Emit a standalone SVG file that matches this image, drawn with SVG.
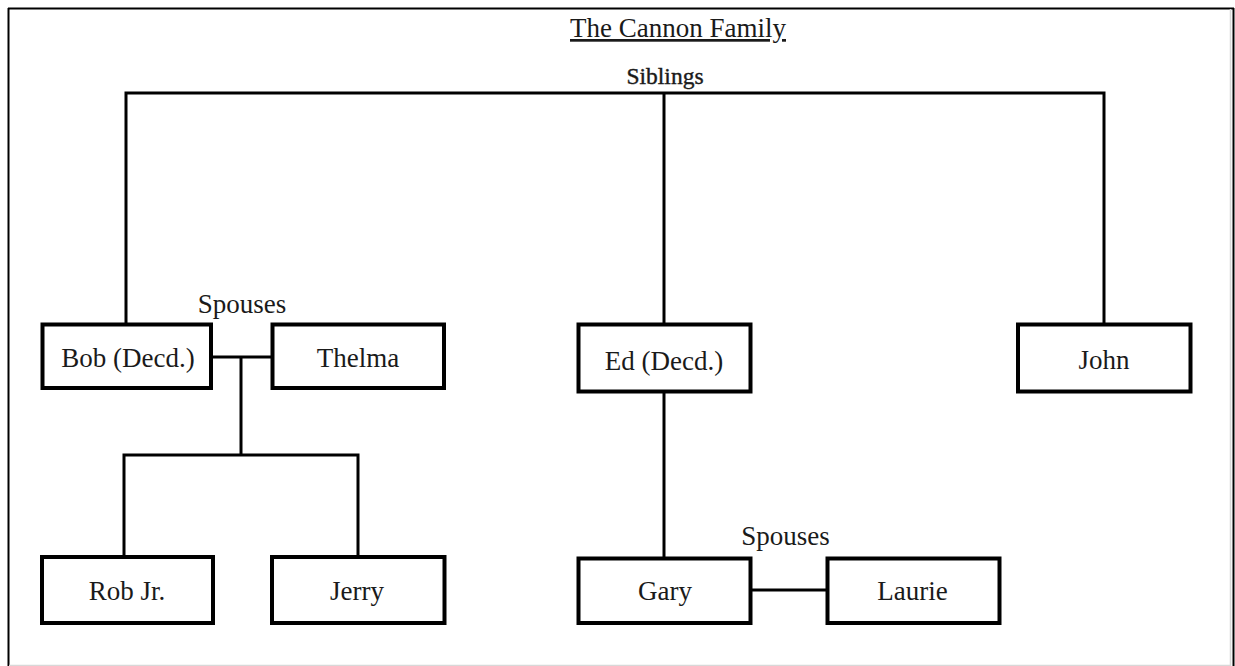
<svg xmlns="http://www.w3.org/2000/svg" width="1235" height="666" viewBox="0 0 1235 666">
  <style>
    .box { fill: #ffffff; stroke: #000000; stroke-width: 4; }
    .conn { fill: none; stroke: #000000; stroke-width: 3; }
    .lbl { font-family: "Liberation Serif", "Times New Roman", serif; fill: #1a1a1a; text-anchor: middle; }
    .node { font-size: 27px; }
  </style>
  <rect x="0" y="0" width="1235" height="666" fill="#ffffff"/>
  <g id="frame">
    <line x1="8" y1="8.5" x2="1234" y2="8.5" stroke="#000" stroke-width="2"/>
    <line x1="8.5" y1="8" x2="8.5" y2="666" stroke="#000" stroke-width="2"/>
    <line x1="1230.5" y1="9" x2="1230.5" y2="666" stroke="#d8d8d8" stroke-width="1.5"/>
    <line x1="1233.5" y1="8" x2="1233.5" y2="666" stroke="#000" stroke-width="2"/>
    <line x1="9" y1="665.5" x2="1231" y2="665.5" stroke="#d8d8d8" stroke-width="1.5"/>
  </g>
  <g id="title">
    <text class="lbl" x="678" y="37" font-size="27" text-decoration="underline">The Cannon Family</text>
  </g>
  <g id="connectors">
    <path class="conn" d="M126,323 V93 H1104 V323"/>
    <path class="conn" d="M664,93 V323"/>
    <path class="conn" d="M213,357 H271"/>
    <path class="conn" d="M241,357 V455"/>
    <path class="conn" d="M124,556 V455 H358 V556"/>
    <path class="conn" d="M664,393 V557"/>
    <path class="conn" d="M752,590 H826"/>
    <text class="lbl" x="665" y="84" font-size="23.5" stroke="#1a1a1a" stroke-width="0.4">Siblings</text>
    <text class="lbl" x="242" y="313" font-size="27">Spouses</text>
    <text class="lbl" x="785.5" y="545" font-size="27">Spouses</text>
  </g>
  <g id="bob">
    <rect class="box" x="42.5" y="324.5" width="168.5" height="63.5"/>
    <text class="lbl node" x="128" y="367">Bob (Decd.)</text>
  </g>
  <g id="thelma">
    <rect class="box" x="272.5" y="324.5" width="171.5" height="63.5"/>
    <text class="lbl node" x="358" y="367">Thelma</text>
  </g>
  <g id="ed">
    <rect class="box" x="578.5" y="324.5" width="172" height="67"/>
    <text class="lbl node" x="664" y="370">Ed (Decd.)</text>
  </g>
  <g id="john">
    <rect class="box" x="1018" y="324.5" width="172.5" height="67"/>
    <text class="lbl node" x="1104" y="369">John</text>
  </g>
  <g id="robjr">
    <rect class="box" x="42" y="557" width="171" height="66"/>
    <text class="lbl node" x="127" y="600">Rob Jr.</text>
  </g>
  <g id="jerry">
    <rect class="box" x="272" y="557" width="172.5" height="66"/>
    <text class="lbl node" x="357" y="600">Jerry</text>
  </g>
  <g id="gary">
    <rect class="box" x="578.5" y="558.5" width="172" height="64.5"/>
    <text class="lbl node" x="665" y="600">Gary</text>
  </g>
  <g id="laurie">
    <rect class="box" x="827.5" y="558.5" width="172" height="64.5"/>
    <text class="lbl node" x="912.5" y="600">Laurie</text>
  </g>
</svg>
